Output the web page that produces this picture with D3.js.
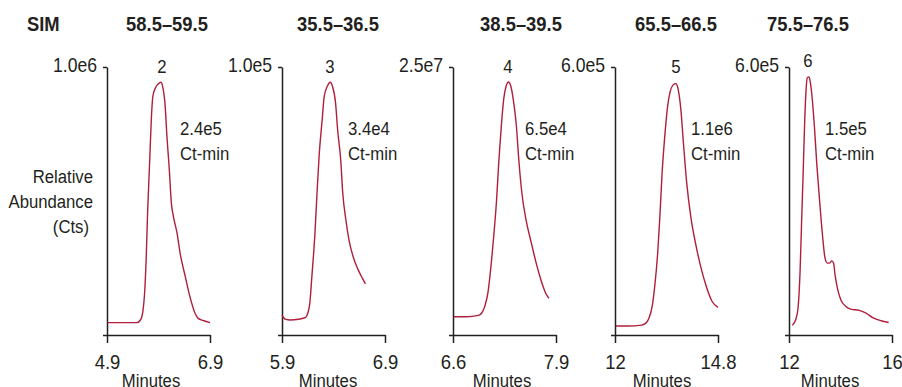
<!DOCTYPE html>
<html>
<head>
<meta charset="utf-8">
<script src="https://cdn.jsdelivr.net/npm/d3@7"></script>
<style>
  body { margin: 0; background: #fff; }
  svg text { font-family: "Liberation Sans", Arial, sans-serif; fill: #231f20; }
</style>
</head>
<body>
<svg id="chart" width="902" height="387"></svg>
<script>
// SIM ion ranges, peak numbers, full-scale counts and x ranges
const ionRanges = ["58.5–59.5", "35.5–36.5", "38.5–39.5", "65.5–66.5", "75.5–76.5"];
const peakIds = ["2", "3", "4", "5", "6"];
const fullScale = [1.0e6, 1.0e5, 2.5e7, 6.0e5, 6.0e5];
const fullScaleLabels = ["1.0e6", "1.0e5", "2.5e7", "6.0e5", "6.0e5"];
const timeRanges = [[4.9, 6.9], [5.9, 6.9], [6.6, 7.9], [12, 14.8], [12, 16]];
const timeTickLabels = [["4.9", "6.9"], ["5.9", "6.9"], ["6.6", "7.9"], ["12", "14.8"], ["12", "16"]];
const peakAreas = ["2.4e5", "3.4e4", "6.5e4", "1.1e6", "1.5e5"];

// traces: [minutes, counts]
const trace2 = [[4.91, 4.6e4], [5.48, 4.6e4], [5.55, 5.6e4], [5.6, 9.3e4], [5.63, 1.56e5], [5.66, 2.8e5],
  [5.69, 4.67e5], [5.73, 6.54e5], [5.76, 8.03e5], [5.79, 8.9e5], [5.84, 9.22e5], [5.9, 9.38e5],
  [5.95, 9.43e5], [5.98, 9.28e5], [6.03, 8.53e5], [6.06, 7.53e5], [6.11, 6.16e5], [6.15, 4.92e5],
  [6.19, 4.42e5], [6.26, 3.8e5], [6.32, 3.05e5], [6.42, 2.18e5], [6.51, 1.43e5], [6.61, 8.1e4],
  [6.67, 6.2e4], [6.77, 5.4e4], [6.9, 4.6e4]];
const trace3 = [[5.9, 7.5e3], [5.93, 5.9e3], [5.98, 5.6e3], [6.06, 5.9e3], [6.13, 6.6e3], [6.15, 8.1e3],
  [6.17, 1.18e4], [6.19, 2.18e4], [6.22, 3.8e4], [6.24, 5.29e4], [6.26, 6.66e4], [6.29, 8.03e4],
  [6.31, 8.9e4], [6.34, 9.28e4], [6.37, 9.43e4], [6.39, 9.28e4], [6.42, 8.66e4], [6.44, 7.66e4],
  [6.47, 6.54e4], [6.49, 5.29e4], [6.52, 4.3e4], [6.55, 3.55e4], [6.59, 2.93e4], [6.64, 2.43e4],
  [6.68, 2.12e4], [6.71, 1.91e4]];
const trace4 = [[6.61, 1.7e6], [6.77, 1.7e6], [6.92, 1.83e6], [6.96, 2.03e6], [7.0, 2.65e6], [7.04, 3.9e6],
  [7.07, 5.75e6], [7.11, 8.88e6], [7.15, 1.26e7], [7.18, 1.64e7], [7.21, 1.95e7], [7.24, 2.2e7],
  [7.27, 2.32e7], [7.3, 2.36e7], [7.33, 2.32e7], [7.36, 2.2e7], [7.4, 1.95e7], [7.43, 1.64e7],
  [7.47, 1.32e7], [7.52, 1.08e7], [7.59, 8.55e6], [7.65, 6.7e6], [7.71, 5.13e6], [7.77, 3.9e6],
  [7.81, 3.43e6]];
const trace5 = [[12.02, 2.0e4], [12.36, 2.0e4], [12.72, 2.2e4], [12.83, 2.6e4], [12.92, 3.7e4], [13.01, 6.4e4],
  [13.08, 1.09e5], [13.16, 1.83e5], [13.22, 2.65e5], [13.28, 3.62e5], [13.36, 4.52e5], [13.43, 5.12e5],
  [13.5, 5.45e5], [13.58, 5.6e5], [13.65, 5.63e5], [13.72, 5.49e5], [13.79, 5.05e5], [13.86, 4.3e5],
  [13.95, 3.4e5], [14.06, 2.65e5], [14.19, 2.05e5], [14.33, 1.53e5], [14.48, 1.09e5], [14.64, 7.5e4],
  [14.8, 6.2e4]];
const trace6 = [[12.13, 2.2e4], [12.26, 3.4e4], [12.35, 6.0e4], [12.43, 1.42e5], [12.49, 2.54e5], [12.56, 3.82e5],
  [12.61, 4.79e5], [12.66, 5.46e5], [12.71, 5.76e5], [12.78, 5.78e5], [12.84, 5.61e5], [12.91, 5.24e5],
  [12.99, 4.64e5], [13.08, 3.82e5], [13.2, 2.92e5], [13.3, 2.24e5], [13.4, 1.72e5], [13.49, 1.61e5],
  [13.58, 1.61e5], [13.66, 1.66e5], [13.73, 1.61e5], [13.79, 1.34e5], [13.88, 1.05e5], [14.01, 7.9e4],
  [14.21, 6.4e4], [14.4, 5.8e4], [14.73, 5.5e4], [14.99, 4.9e4], [15.25, 3.9e4], [15.57, 3.2e4],
  [15.87, 2.8e4]];
const traces = [trace2, trace3, trace4, trace5, trace6];

// layout
const panelLeft = [107, 282, 453, 615, 789];
const panelWidth = 103;
const plotTop = 67, plotBottom = 335;
const titleX = [167, 338, 521, 676, 808];
const peakLabelPos = [[162, 73], [330, 73], [508, 73], [676, 73], [808, 67]];
const areaLabelX = [180, 348, 525, 691, 825];
const minutesX = [151, 328, 502, 662, 830];
const ink = "#231f20", red = "#b01e3c";
const squeeze = 0.88;   // fake a condensed face

const svg = d3.select("#chart");

// text squeezed horizontally around its anchor point
function label(x, y, lines, size, anchor, bold, sx) {
  const g = svg.append("g").attr("transform", `translate(${x},${y}) scale(${sx || squeeze},1)`);
  const t = g.append("text").attr("text-anchor", anchor || "start").style("font-size", size + "px");
  if (bold) t.style("font-weight", "bold");
  [].concat(lines).forEach((s, k) => {
    t.append("tspan").attr("x", 0).attr("y", k * 25).text(s);
  });
  return g;
}

label(27, 31, "SIM", 20, "start", true, 0.92);

label(93, 183, ["Relative", "Abundance"], 19, "end");
label(89, 233, "(Cts)", 19, "end");

traces.forEach((trace, i) => {
  const x = d3.scaleLinear().domain(timeRanges[i]).range([panelLeft[i], panelLeft[i] + panelWidth]);
  const y = d3.scaleLinear().domain([0, fullScale[i]]).range([plotBottom, plotTop]);

  label(titleX[i], 31, ionRanges[i], 20, "middle", true, 0.92);

  // x axis
  const xAxis = svg.append("g").attr("transform", `translate(0,${plotBottom})`)
    .call(d3.axisBottom(x).tickValues(timeRanges[i]).tickSizeInner(8).tickSizeOuter(0).tickPadding(11)
      .tickFormat((d, k) => timeTickLabels[i][k]));
  xAxis.select(".domain").attr("stroke", ink).attr("stroke-width", 1.5);
  xAxis.selectAll(".tick line").attr("stroke", ink).attr("stroke-width", 1.5);
  xAxis.selectAll(".tick text").attr("fill", ink).attr("font-family", null)
    .style("font-size", "21px").attr("transform", `scale(${squeeze},1)`);

  // y axis
  const yAxis = svg.append("g").attr("transform", `translate(${panelLeft[i]},0)`)
    .call(d3.axisLeft(y).tickValues([0, fullScale[i]]).tickSizeInner(4).tickSizeOuter(0)
      .tickFormat(d => d === 0 ? "" : fullScaleLabels[i]));
  yAxis.select(".domain").attr("stroke", ink).attr("stroke-width", 1.5);
  yAxis.selectAll(".tick line").attr("stroke", ink).attr("stroke-width", 1.5);
  yAxis.selectAll(".tick text").attr("fill", ink).attr("font-family", null)
    .attr("x", -10 / squeeze).attr("dy", "0.2em")
    .style("font-size", "20px").attr("transform", `scale(${squeeze},1)`);

  svg.append("path").datum(trace)
    .attr("fill", "none").attr("stroke", red).attr("stroke-width", 1.4)
    .attr("d", d3.line().x(d => x(d[0])).y(d => y(d[1])).curve(d3.curveMonotoneX));

  label(peakLabelPos[i][0], peakLabelPos[i][1], peakIds[i], 19, "middle");
  label(areaLabelX[i], 135, [peakAreas[i], "Ct-min"], 19, "start");
  label(minutesX[i], 387, "Minutes", 19, "middle");
});
</script>
</body>
</html>
